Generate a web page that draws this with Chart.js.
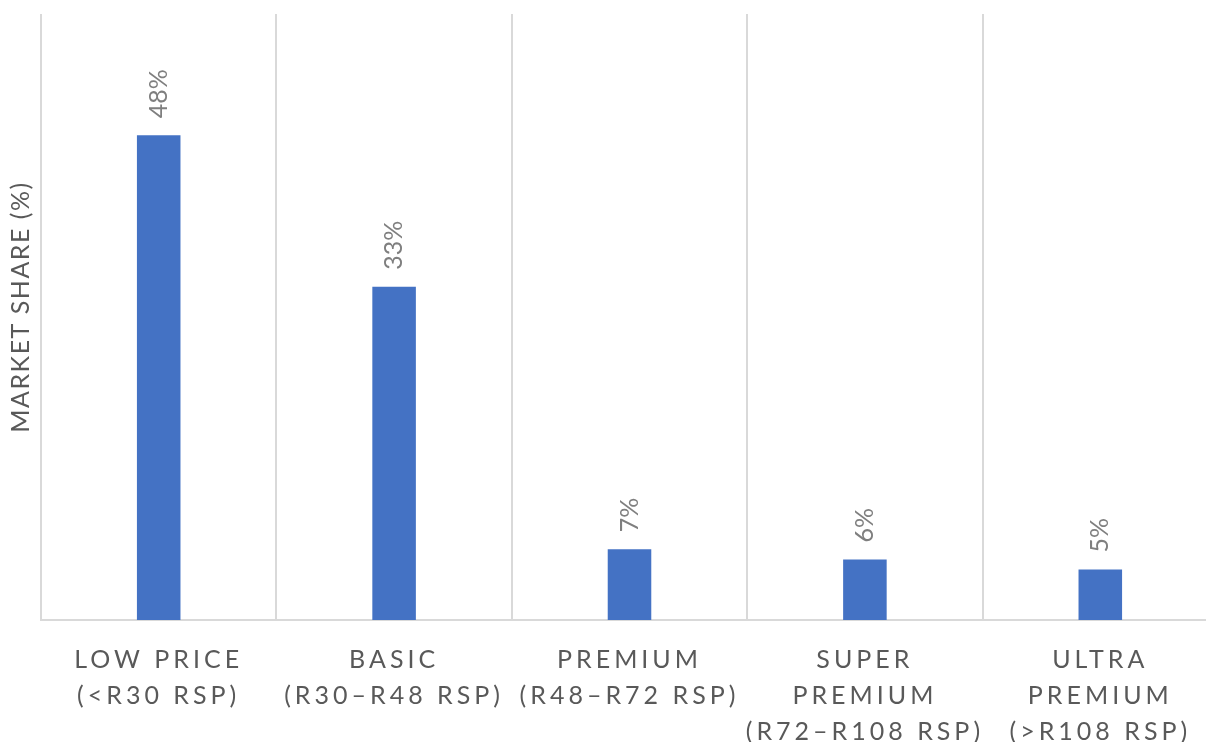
<!DOCTYPE html>
<html>
<head>
<meta charset="utf-8">
<script src="https://cdn.jsdelivr.net/npm/chart.js@4/dist/chart.umd.min.js"></script>
<style>
html,body{margin:0;padding:0;background:#fff;overflow:hidden;width:1206px;height:742px;}
canvas{display:block;}
</style>
</head>
<body>
<canvas id="c" width="1220" height="742"></canvas>
<script>
const categories = [
  ['LOW PRICE', '(<R30 RSP)'],
  ['BASIC', '(R30\u2013R48 RSP)'],
  ['PREMIUM', '(R48\u2013R72 RSP)'],
  ['SUPER', 'PREMIUM', '(R72\u2013R108 RSP)'],
  ['ULTRA', 'PREMIUM', '(>R108 RSP)']
];
const marketShare = [48, 33, 7, 6, 5];
const yAxisTitle = 'MARKET SHARE (%)';
const yMin = 0;
const yMax = 60;

const FONT = 'Lato';

// letter spacing for category tick labels only
const origDrawLabels = Chart.CategoryScale.prototype.drawLabels;
Chart.CategoryScale.prototype.drawLabels = function (area) {
  this.ctx.save();
  this.ctx.letterSpacing = '4px';
  origDrawLabels.call(this, area);
  this.ctx.restore();
};
// slight letter spacing and upward shift for the value-axis title
const origDrawTitle = Chart.LinearScale.prototype.drawTitle;
Chart.LinearScale.prototype.drawTitle = function (area) {
  this.ctx.save();
  this.ctx.letterSpacing = '1.5px';
  this.ctx.translate(0, -10);
  origDrawTitle.call(this, area);
  this.ctx.restore();
};

const valueLabels = {
  id: 'valueLabels',
  afterDatasetsDraw(chart) {
    const ctx = chart.ctx;
    const meta = chart.getDatasetMeta(0);
    ctx.save();
    ctx.fillStyle = '#7f7f7f';
    ctx.font = '25px ' + FONT;
    ctx.textAlign = 'left';
    ctx.textBaseline = 'middle';
    meta.data.forEach((bar, i) => {
      ctx.save();
      ctx.translate(bar.x, bar.y - 17);
      ctx.rotate(-Math.PI / 2);
      ctx.fillText(marketShare[i] + '%', 0, 0);
      ctx.restore();
    });
    ctx.restore();
  }
};

new Chart(document.getElementById('c'), {
  type: 'bar',
  data: {
    labels: categories,
    datasets: [{
      data: marketShare,
      backgroundColor: '#4472c4',
      borderWidth: 0,
      categoryPercentage: 1,
      barPercentage: 0.185
    }]
  },
  options: {
    responsive: false,
    devicePixelRatio: 1,
    animation: false,
    layout: { padding: { top: 14, right: 2, left: 0, bottom: 0 } },
    plugins: { legend: { display: false }, tooltip: { enabled: false } },
    scales: {
      x: {
        grid: { display: true, offset: true, color: '#d9d9d9', lineWidth: 2, drawTicks: false },
        border: { display: true, color: '#d9d9d9', width: 2 },
        ticks: {
          color: '#595959',
          font: { family: FONT, size: 25, lineHeight: '36px' },
          padding: 22,
          maxRotation: 0,
          autoSkip: false
        },
        afterFit(scale) { scale.height = 122; }
      },
      y: {
        min: yMin,
        max: yMax,
        grid: { display: false },
        border: { display: false },
        ticks: { display: false },
        title: {
          display: true,
          text: yAxisTitle,
          color: '#595959',
          font: { family: FONT, size: 25 },
          padding: { top: 6, bottom: 0 }
        },
        afterFit(scale) { scale.width = 41; }
      }
    }
  },
  plugins: [valueLabels]
});
</script>
</body>
</html>
